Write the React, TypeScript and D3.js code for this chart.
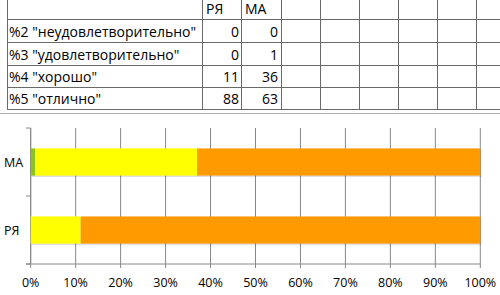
import React from "react";
import * as d3 from "d3";

const columns = ["РЯ", "МА"];
const seriesNames = [
  '%2 "неудовлетворительно"',
  '%3 "удовлетворительно"',
  '%4 "хорошо"',
  '%5 "отлично"',
];
const valuesRYA = [0, 0, 11, 88];
const valuesMA = [0, 1, 36, 63];
const chartCategories = ["МА", "РЯ"]; // top to bottom
const seriesColors = ["#e0301e", "#8dc21f", "#ffff00", "#ff9a00"];
const tickValues = [0, 0.1, 0.2, 0.3, 0.4, 0.5, 0.6, 0.7, 0.8, 0.9, 1];

const W = 500;
const H = 295;

export default function App() {
  const tableFont = "'Open Sans', sans-serif";
  const rowLines = [19, 42, 65, 87, 109];
  const colLines = [7, 202, 241, 281, 320, 359, 398, 437, 476];
  const rowBase = [37, 60, 82, 104];
  const tfs = 14;

  const dataRows = chartCategories.map((c) => {
    const vals = c === "РЯ" ? valuesRYA : valuesMA;
    const o: any = { cat: c };
    seriesNames.forEach((s, i) => (o[s] = vals[i]));
    return o;
  });
  const stacked = d3
    .stack<any>()
    .keys(seriesNames)
    .offset(d3.stackOffsetExpand)(dataRows);

  const x = d3.scaleLinear().domain([0, 1]).range([30.7, 480.3]);
  const y = d3
    .scaleBand<string>()
    .domain(chartCategories)
    .range([128, 264])
    .paddingInner(0.6)
    .paddingOuter(0.3);
  const grid = "#888888";
  const step = y.step();

  return (
    <svg
      width={W}
      height={H}
      style={{ position: "fixed", left: 0, top: 0, background: "#fff" }}
    >
      <rect x={0} y={0} width={W} height={H} fill="#fff" />
      {/* spreadsheet grid */}
      {rowLines.map((ry, i) => (
        <line key={"r" + i} x1={7} x2={W} y1={ry + 0.5} y2={ry + 0.5} stroke="#6a6a6a" strokeWidth={1} />
      ))}
      {colLines.map((cx, i) => (
        <line key={"c" + i} x1={cx + 0.5} x2={cx + 0.5} y1={0} y2={109} stroke="#6a6a6a" strokeWidth={1} />
      ))}
      <line x1={0} x2={W} y1={113.5} y2={113.5} stroke="#b0b0b0" strokeWidth={1} />
      {/* header */}
      {columns.map((c, i) => (
        <text key={"h" + i} x={colLines[1 + i] + 4} y={14} fontFamily={tableFont} fontSize={tfs} fill="#000">
          {c}
        </text>
      ))}
      {seriesNames.map((s, i) => (
        <g key={"row" + i}>
          <text x={9} y={rowBase[i]} fontFamily={tableFont} fontSize={tfs} fill="#000">
            {s}
          </text>
          <text x={239} y={rowBase[i]} textAnchor="end" fontFamily={tableFont} fontSize={tfs} fill="#000">
            {valuesRYA[i]}
          </text>
          <text x={278} y={rowBase[i]} textAnchor="end" fontFamily={tableFont} fontSize={tfs} fill="#000">
            {valuesMA[i]}
          </text>
        </g>
      ))}

      {/* chart gridlines */}
      {tickValues.map((t, i) => (
        <line key={"g" + i} x1={x(t)} x2={x(t)} y1={128} y2={268} stroke={grid} strokeWidth={1} />
      ))}
      {/* category axis */}
      <line x1={x(0)} x2={x(0)} y1={128} y2={264} stroke={grid} strokeWidth={1} />
      {[0, 1, 2].map((i) => (
        <line key={"ct" + i} x1={26} x2={x(0)} y1={128 + i * step} y2={128 + i * step} stroke={grid} strokeWidth={1} />
      ))}
      <line x1={26} x2={x(1)} y1={264} y2={264} stroke={grid} strokeWidth={1} />

      {/* bars */}
      {stacked.map((layer, li) =>
        layer.map((d, di) => {
          const cat = (d.data as any).cat;
          const x0 = x(d[0]);
          const x1 = x(d[1]);
          if (x1 - x0 <= 0) return null;
          return (
            <g key={"b" + li + "-" + di}>
              <rect
                x={x0 + 1}
                y={(y(cat) as number) + 1.5}
                width={x1 - x0}
                height={y.bandwidth()}
                fill="#000"
                opacity={0.12}
              />
              <rect x={x0} y={y(cat)} width={x1 - x0} height={y.bandwidth()} fill={seriesColors[li]} />
            </g>
          );
        })
      )}

      {/* category labels */}
      {chartCategories.map((c) => (
        <text
          key={"cl" + c}
          x={4}
          y={(y(c) as number) + y.bandwidth() / 2 + 5}
          fontFamily={tableFont}
          fontSize={12.5}
          fill="#000"
        >
          {c}
        </text>
      ))}
      {/* tick labels */}
      {tickValues.map((t, i) => (
        <text
          key={"tl" + i}
          x={x(t)}
          y={287}
          textAnchor="middle"
          fontFamily={tableFont}
          fontSize={12.5}
          fill="#000"
        >
          {d3.format(".0%")(t)}
        </text>
      ))}
    </svg>
  );
}
